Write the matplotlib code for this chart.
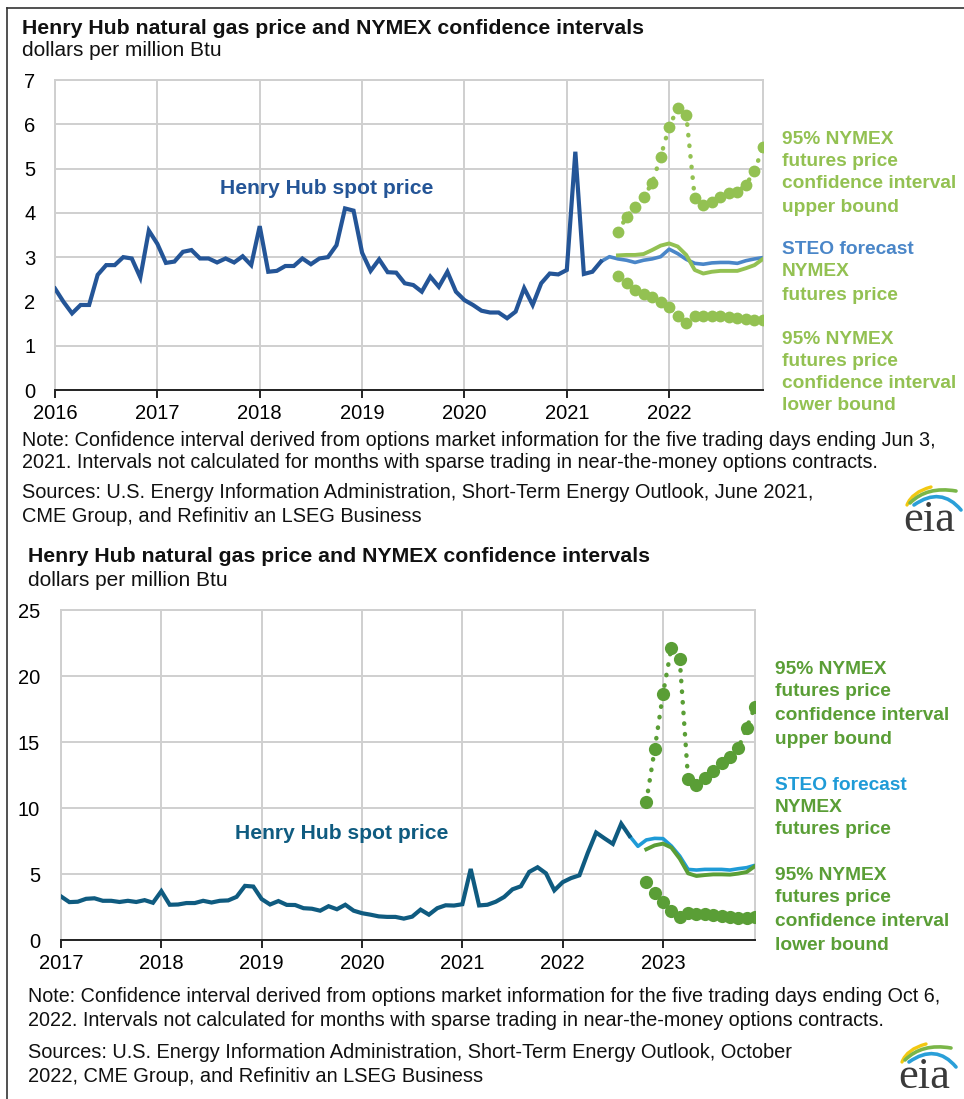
import matplotlib
matplotlib.use("Agg")
import matplotlib.pyplot as plt
from matplotlib.lines import Line2D
from matplotlib.path import Path
from matplotlib.patches import PathPatch
import numpy as np

plt.rcParams['font.family'] = ['Liberation Sans', 'DejaVu Sans']

# ---------------- data ----------------
# Henry Hub monthly spot price, Jan 2016 .. Sep 2022 (dollars per million Btu)
spot = [
    2.29, 1.99, 1.73, 1.92, 1.92, 2.60, 2.82, 2.82, 3.00, 2.97, 2.54, 3.60,   # 2016
    3.30, 2.87, 2.90, 3.12, 3.16, 2.97, 2.97, 2.88, 2.97, 2.88, 3.02, 2.82,   # 2017
    3.70, 2.67, 2.69, 2.80, 2.80, 2.97, 2.84, 2.97, 3.00, 3.27, 4.10, 4.05,   # 2018
    3.10, 2.69, 2.95, 2.66, 2.65, 2.41, 2.37, 2.22, 2.56, 2.33, 2.67, 2.22,   # 2019
    2.03, 1.92, 1.79, 1.75, 1.75, 1.62, 1.77, 2.30, 1.92, 2.41, 2.63, 2.61,   # 2020
    2.71, 5.38, 2.62, 2.67, 2.90, 3.26, 3.84, 4.07, 5.16, 5.51, 5.05, 3.76,   # 2021
    4.38, 4.69, 4.90, 6.60, 8.14, 7.70, 7.28, 8.81, 7.88,                     # 2022
]
spot_start_year = 2016

# --- June 2021 STEO chart (Jan 2016 .. Dec 2022) ---
top_years = [2016, 2017, 2018, 2019, 2020, 2021, 2022]
top_spot_end = "2021-05"
top_steo_start = "2021-05"
top_steo = [2.90, 3.01, 2.96, 2.93, 2.88, 2.93, 2.96, 3.01, 3.18, 3.08, 2.95, 2.86,
            2.84, 2.87, 2.88, 2.88, 2.86, 2.92, 2.96, 2.99]
top_ci_start = "2021-07"
top_nymex = [3.04, 3.05, 3.05, 3.07, 3.16, 3.26, 3.31, 3.24, 3.05, 2.71, 2.63, 2.67,
             2.69, 2.69, 2.69, 2.75, 2.82, 2.96]
top_upper = [3.57, 3.91, 4.14, 4.36, 4.67, 5.27, 5.94, 6.37, 6.22, 4.33, 4.18, 4.25,
             4.36, 4.44, 4.48, 4.63, 4.95, 5.48]
top_lower = [2.57, 2.41, 2.26, 2.16, 2.09, 1.99, 1.87, 1.66, 1.52, 1.67, 1.67, 1.67,
             1.67, 1.64, 1.62, 1.60, 1.57, 1.57]
top_yticks = [0, 1, 2, 3, 4, 5, 6, 7]

# --- October 2022 STEO chart (Jan 2017 .. Dec 2023) ---
bot_years = [2017, 2018, 2019, 2020, 2021, 2022, 2023]
bot_spot_end = "2022-09"
bot_steo_start = "2022-09"
bot_steo = [7.88, 7.10, 7.58, 7.70, 7.68, 7.12, 6.36, 5.35, 5.30, 5.35, 5.35, 5.35,
            5.30, 5.40, 5.48, 5.66]
bot_ci_start = "2022-11"
bot_nymex = [6.87, 7.17, 7.30, 7.00, 6.16, 5.05, 4.85, 4.92, 4.97, 4.97, 4.95, 5.03,
             5.15, 5.60]
bot_upper = [10.48, 14.44, 18.66, 22.15, 21.26, 12.17, 11.74, 12.25, 12.80, 13.38,
             13.89, 14.52, 16.09, 17.68]
bot_lower = [4.39, 3.54, 2.88, 2.20, 1.77, 2.02, 1.94, 1.94, 1.89, 1.82, 1.77, 1.69,
             1.69, 1.77]
bot_yticks = [0, 5, 10, 15, 20, 25]

titles = ["Henry Hub natural gas price and NYMEX confidence intervals"] * 2
units = "dollars per million Btu"
notes_top = ["Note: Confidence interval derived from options market information for the five trading days ending Jun 3,",
             "2021. Intervals not calculated for months with sparse trading in near-the-money options contracts."]
src_top = ["Sources: U.S. Energy Information Administration, Short-Term Energy Outlook, June 2021,",
           "CME Group, and Refinitiv an LSEG Business"]
notes_bot = ["Note: Confidence interval derived from options market information for the five trading days ending Oct 6,",
             "2022. Intervals not calculated for months with sparse trading in near-the-money options contracts."]
src_bot = ["Sources: U.S. Energy Information Administration, Short-Term Energy Outlook, October",
           "2022, CME Group, and Refinitiv an LSEG Business"]

# ---------------- helpers ----------------
W, H = 964, 1099
fig = plt.figure(figsize=(W / 100, H / 100), dpi=100)
fig.patch.set_facecolor("white")


def fx(x):
    return x / W


def fy(y):
    return 1 - y / H


def ftext(x, y, s, **kw):
    kw.setdefault("va", "center")
    kw.setdefault("ha", "left")
    fig.text(fx(x), fy(y), s, **kw)


def month_index(ym, base_year):
    y, m = ym.split("-")
    return (int(y) - base_year) * 12 + int(m) - 1


def draw_panel(rect, years, yticks, spot_end, steo_start, steo, ci_start, nymex,
               upper, lower, c_spot, c_steo, c_green, spot_lbl_xy, ylab_pad, ms):
    l, t, r, b = rect
    ax = fig.add_axes([fx(l), fy(b), fx(r - l), (b - t) / H])
    base = years[0]
    x_spot_all = np.arange(len(spot)) + (spot_start_year - base) * 12
    spot_arr = np.array(spot)
    end_i = month_index(spot_end, spot_start_year)
    mask = (x_spot_all >= 0) & (np.arange(len(spot)) <= end_i)
    s0 = month_index(steo_start, base)
    c0 = month_index(ci_start, base)
    x_steo = np.arange(len(steo)) + s0
    x_ci = np.arange(len(nymex)) + c0

    ax.plot(x_steo, steo, color=c_steo, lw=2.6, solid_capstyle="butt", zorder=3)
    ax.plot(x_ci, nymex, color=c_green, lw=2.8, zorder=4)
    ax.plot(x_spot_all[mask], spot_arr[mask], color=c_spot, lw=3.0, zorder=5,
            solid_joinstyle="miter")
    ax.plot(x_ci, upper, color=c_green, lw=3.2, linestyle=(0, (0.1, 2.3)),
            dash_capstyle="round", marker="o", ms=ms, mec="none", zorder=4)
    ax.plot(x_ci, lower, color=c_green, lw=3.2, linestyle=(0, (0.1, 2.3)),
            dash_capstyle="round", marker="o", ms=ms, mec="none", zorder=4)

    ax.set_xlim(0, 83)
    ax.set_ylim(yticks[0], yticks[-1])
    ax.set_xticks([(yy - base) * 12 for yy in years])
    ax.set_xticklabels([str(yy) for yy in years], fontsize=14.5)
    ax.set_yticks(yticks)
    ax.set_yticklabels([str(v) for v in yticks], fontsize=14.5)
    ax.grid(True, color="#cfcfcf", lw=1.4)
    ax.set_axisbelow(True)
    for sp in ("top", "right", "left"):
        ax.spines[sp].set_color("#cfcfcf")
        ax.spines[sp].set_linewidth(1.4)
    ax.spines["bottom"].set_color("#222222")
    ax.spines["bottom"].set_linewidth(1.4)
    ax.tick_params(axis="y", length=0, pad=ylab_pad)
    ax.tick_params(axis="x", length=6, width=1.4, color="#222222", direction="out", pad=4)
    ax.text(spot_lbl_xy[0], spot_lbl_xy[1], "Henry Hub spot price", color=c_spot,
            fontsize=15.2, fontweight="bold", ha="left", va="center", zorder=6)
    return ax


def eia_logo(x, y):
    # x, y: top-left pixel of logo box (74 x 54 px)
    ax = fig.add_axes([fx(x), fy(y + 54), 74 / W, 54 / H])
    ax.set_xlim(0, 74)
    ax.set_ylim(54, 0)
    ax.axis("off")
    ax.text(38, 37, "eia", family=["Liberation Serif", "DejaVu Serif"], fontsize=32,
            color="#3a3a3a", ha="center", va="center")
    curves = [
        ((16, 22), (21, 9), (40, 4), "#f2c811", 2.4),
        ((19, 20), (36, 3), (65, 8), "#7ab648", 2.6),
        ((23, 22), (50, 3), (70, 27), "#2a9fd8", 2.6),
    ]
    for p0, p1, p2, col, lw in curves:
        path = Path([p0, p1, p2], [Path.MOVETO, Path.CURVE3, Path.CURVE3])
        ax.add_patch(PathPatch(path, fill=False, ec=col, lw=lw, capstyle="round"))


# ---------------- top panel ----------------
top_spot_c = "#245597"
top_steo_c = "#4a86c8"
top_green = "#93c152"
draw_panel((55, 80, 763, 390), top_years, top_yticks, top_spot_end, top_steo_start,
           top_steo, top_ci_start, top_nymex, top_upper, top_lower,
           top_spot_c, top_steo_c, top_green, (19.3, 4.55), 14, 8.5)

ftext(22, 28, titles[0], fontsize=15.3, fontweight="bold", color="#111111")
ftext(22, 50, units, fontsize=15.0, color="#111111")
for i, s in enumerate(notes_top):
    ftext(22, 440 + 23 * i, s, fontsize=14.2, color="#111111")
for i, s in enumerate(src_top):
    ftext(22, 492 + 24 * i, s, fontsize=14.4, color="#111111")

lbl_top = [("95% NYMEX", 139, top_green), ("futures price", 162, top_green),
           ("confidence interval", 184, top_green), ("upper bound", 207, top_green),
           ("STEO forecast", 250, top_steo_c), ("NYMEX", 272, top_green),
           ("futures price", 295, top_green),
           ("95% NYMEX", 339, top_green), ("futures price", 361, top_green),
           ("confidence interval", 383, top_green), ("lower bound", 406, top_green)]
for s, yy, c in lbl_top:
    ftext(782, yy, s, fontsize=13.8, fontweight="bold", color=c)

eia_logo(891, 483)

# ---------------- bottom panel ----------------
bot_spot_c = "#0f5b80"
bot_steo_c = "#1f9bd7"
bot_green = "#5a9e36"
draw_panel((61, 610, 755, 940), bot_years, bot_yticks, bot_spot_end, bot_steo_start,
           bot_steo, bot_ci_start, bot_nymex, bot_upper, bot_lower,
           bot_spot_c, bot_steo_c, bot_green, (20.8, 8.1), 15, 9.5)

ftext(28, 556, titles[1], fontsize=15.3, fontweight="bold", color="#111111")
ftext(28, 580, units, fontsize=15.0, color="#111111")
for i, s in enumerate(notes_bot):
    ftext(28, 996 + 24 * i, s, fontsize=14.2, color="#111111")
for i, s in enumerate(src_bot):
    ftext(28, 1053 + 24 * i, s, fontsize=14.4, color="#111111")

lbl_bot = [("95% NYMEX", 669, bot_green), ("futures price", 692, bot_green),
           ("confidence interval", 716, bot_green), ("upper bound", 739, bot_green),
           ("STEO forecast", 785, bot_steo_c), ("NYMEX", 807, bot_green),
           ("futures price", 830, bot_green),
           ("95% NYMEX", 876, bot_green), ("futures price", 898, bot_green),
           ("confidence interval", 922, bot_green), ("lower bound", 945, bot_green)]
for s, yy, c in lbl_bot:
    ftext(775, yy, s, fontsize=13.8, fontweight="bold", color=c)

eia_logo(886, 1040)

# frame lines
fig.add_artist(Line2D([fx(7), fx(7)], [fy(8), fy(1099)], color="#333333", lw=1.2))
fig.add_artist(Line2D([fx(7), fx(964)], [fy(8), fy(8)], color="#333333", lw=1.2))

fig.savefig("out.png", dpi=100, facecolor="white")
